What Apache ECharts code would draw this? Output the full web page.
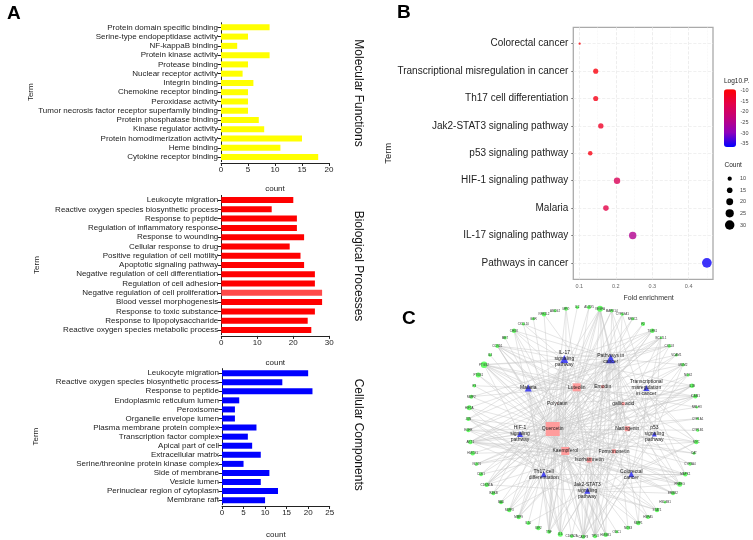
<!DOCTYPE html>
<html><head><meta charset="utf-8">
<style>html,body{margin:0;padding:0;background:#fff}#c{width:753px;height:540px}</style>
<script src="https://cdn.jsdelivr.net/npm/echarts@6/dist/echarts.min.js"></script>
</head><body><div id="c"></div>
<script>
const mfTerms=["Protein domain specific binding","Serine-type endopeptidase activity","NF-kappaB binding","Protein kinase activity","Protease binding","Nuclear receptor activity","Integrin binding","Chemokine receptor binding","Peroxidase activity","Tumor necrosis factor receptor superfamily binding","Protein phosphatase binding","Kinase regulator activity","Protein homodimerization activity","Heme binding","Cytokine receptor binding"];
const mfCounts=[9,5,3,9,5,4,6,5,5,5,7,8,15,11,18];
const bpTerms=["Leukocyte migration","Reactive oxygen species biosynthetic process","Response to peptide","Regulation of inflammatory response","Response to wounding","Cellular response to drug","Positive regulation of cell motility","Apoptotic signaling pathway","Negative regulation of cell differentiation","Regulation of cell adhesion","Negative regulation of cell proliferation","Blood vessel morphogenesis","Response to toxic substance","Response to lipopolysaccharide","Reactive oxygen species metabolic process"];
const bpCounts=[20,14,21,21,23,19,22,23,26,26,28,28,26,24,25];
const ccTerms=["Leukocyte migration","Reactive oxygen species biosynthetic process","Response to peptide","Endoplasmic reticulum lumen","Peroxisome","Organelle envelope lumen","Plasma membrane protein complex","Transcription factor complex","Apical part of cell","Extracellular matrix","Serine/threonine protein kinase complex","Side of membrane","Vesicle lumen","Perinuclear region of cytoplasm","Membrane raft"];
const ccCounts=[20,14,21,4,3,3,8,6,7,9,5,11,9,13,10];
const keggTerms=["Colorectal cancer","Transcriptional misregulation in cancer","Th17 cell differentiation","Jak2-STAT3 signaling pathway","p53 signaling pathway","HIF-1 signaling pathway","Malaria","IL-17 signaling pathway","Pathways in cancer"];
const keggFold=[0.101,0.145,0.145,0.159,0.13,0.2035,0.173,0.2465,0.45];
const keggLogP=[-10,-10.5,-11.5,-13,-11,-18,-16,-25,-36];
const keggCount=[2,13,13,14,11,18,15,22,31];
const legendLogP=[-10,-15,-20,-25,-30,-35];
const legendCount=[10,15,20,25,30];
const geneNames=["VEGFA","MAPK14","CYP19A1","NR3C1","F2","TGFB1","BCL2L1","CXCL8","VCAM1","MDM2","NOS2","IL1B","ICAM1","NR1H3","CYP1A1","CYP1B1","MYC","CAT","CYP3A4","MAPK1","PPARG","ERBB2","HSD3B1","STAT1","HSPA5","MMP1","NOS3","ODC1","HMGB1","TP53","CASP3","CDKN2A","IL6","TNF","IGF2","IL10","MMP9","MMP3","BAD","IKBKB","CDKN1A","CDK1","NQO1","HMOX1","AKT1","EGFR","JUN","HIF1A","MMP2","F3","PTGS1","PTGS2","IL4","CCND1","MET","CHUK","CXCL10","GSR","NFE2L2","ABCG2","MPO","IL2","ALOX5"];
const geneX=[600,611.7,622.3,632.7,643,652.3,661,669.3,676.3,683,688,692,695.3,696.7,697.7,697.7,696.3,694,690,685.3,679.7,673,665,657,648,638.3,628,616.7,605.7,595,583.3,571.7,560.3,549,538.3,528.3,518.7,509.3,501,493.3,486.7,481,476.7,472.7,470.3,468.3,468.3,469.3,471.3,474.3,478.3,484,490,497.3,505,514,523.3,533.3,544,555,566,577.3,589];
const geneY=[308.7,310.7,314.3,318.7,324,330.7,337.7,346,355,364.7,375,385.7,396.3,407.3,418.7,430.3,442,453.3,464,474.3,484.3,493.3,502.3,510,517,523,527.7,531.7,534.7,536.3,536.7,536.3,534.3,531.7,528,523,517,510,502.3,493.3,484.7,474.3,464,453.3,442,430.3,419,407.7,396.7,385.7,375,364.7,355,346,337.7,330.7,324,318.7,314.3,310.7,308.7,307.3,307.3];
const geneSize=[6,3.5,3,3,4,4.5,2.5,3.5,3,3.5,3,4.5,4.5,2.5,2.5,3,4.5,3,3.5,4.5,5,4,2.5,4.5,4,4.5,4,3,4.5,4,4,3.5,5,4,4.5,4,4.5,4.5,4,4,4.5,4,3.5,4.5,4.5,4,4,5,4,3.5,5,6.5,3.5,4,3.5,4.5,3,3,4.5,3,4,3.5,4];
const herbNames=["Quercetin","Luteolin","Kaempferol","Emodin","gallic acid","Polydatin","Naringenin","Formononetin","Isorhamnetin"];
const herbX=[552.7,576.7,565.3,602.7,623.3,557.3,627.3,614,589.3];
const herbY=[429,387.3,451,386.7,403.7,403.3,428.7,451.3,460];
const herbSize=[14,8,8,3,3,1,5,4,5];
const herbGenes=[
[0,1,2,3,4,5,6,7,8,9,10,11,12,13,14,15,16,17,18,19,20,21,23,24,25,26,27,28,29,30,31,32,33,34,35,36,37,38,39,40,41,42,43,44,45,46,47,48,49,50,51,52,53,54,55,56,57,58,60,61,62],
[0,1,6,9,13,20,24,28,29,30,33,36,40,44,45,48,51,53,55,60,62],
[0,2,5,8,11,12,16,19,20,29,30,32,33,37,42,43,44,46,50,51,53,60],
[0,6,16,20,29,30,40,44,51,53],
[0,17,29,30,33,36,42,44,51],
[0,12,30,33,51],
[0,11,14,18,30,32,33,42,44,51,58],
[0,2,20,30,44,51,53],
[0,12,19,29,30,44,51,55]];
const pathNames=["Pathways in\ncancer","IL-17\nsignaling\npathway","Malaria","Transcriptional\nmisregulation\nin cancer","HIF-1\nsignaling\npathway","Th17 cell\ndifferentiation","Jak2-STAT3\nsignaling\npathway","p53\nsignaling\npathway","Colorectal\ncancer"];
const pathX=[610.7,564.3,528.3,646.3,520,543.7,587.3,654.3,631.3];
const pathY=[358.7,359,388,388,434,474.3,490.7,434,474.3];
const pathSize=[9,8,7,6,6,6,6,5,6];
const pathGenes=[
[0,1,3,5,6,7,9,16,19,20,21,25,26,28,29,30,31,32,36,37,39,40,41,44,45,46,47,48,51,53,55,56],
[7,11,32,33,36,37,39,46,51,53,55,56,5,28],
[5,7,8,11,12,28,32,33,49],
[2,7,9,12,16,19,25,29,36,38,40],
[0,6,11,12,17,21,23,25,30,32,40,44,45,47,51],
[4,5,10,11,19,23,32,33,39,46,47,55],
[6,9,10,16,19,20,21,23,32,35,40,44,45,46,53],
[1,6,9,16,29,30,37,40,41,53],
[1,6,16,19,20,21,23,29,30,44,45,46,53]];

const FONT='"Liberation Sans",Arial,sans-serif';
function barParts(i,terms,vals,color,rect,xMax,xInt,termGap,nameGap,special){
  return {
    grid:{left:rect[0],top:rect[1],width:rect[2],height:rect[3],containLabel:false},
    x:{type:'value',gridIndex:i,min:0,max:xMax,interval:xInt,offset:1.3,name:'count',nameLocation:'middle',nameGap:nameGap,
       nameTextStyle:{fontSize:8,color:'#222',fontFamily:FONT},
       axisLine:{show:true,lineStyle:{color:'#222',width:1}},axisTick:{show:true,length:3,lineStyle:{color:'#222'}},
       axisLabel:{fontSize:8,color:'#222',margin:3,fontFamily:FONT,hideOverlap:false},splitLine:{show:false}},
    y:{type:'category',gridIndex:i,data:terms,inverse:true,name:'Term',nameLocation:'middle',nameGap:termGap,
       nameTextStyle:{fontSize:8,color:'#222',fontFamily:FONT},
       axisLine:{show:true,lineStyle:{color:'#222',width:1}},axisTick:{show:true,length:3.5,alignWithLabel:true,lineStyle:{color:'#222'}},
       axisLabel:{fontSize:8,color:'#222',margin:3,interval:0,fontFamily:FONT},splitLine:{show:false}},
    s:{type:'bar',xAxisIndex:i,yAxisIndex:i,barWidth:6,silent:true,animation:false,itemStyle:{color:color},
       data:vals.map((v,k)=>k===special?{value:v,itemStyle:{color:'#ff4a4a'}}:v)}
  };
}
const A=barParts(0,mfTerms,mfCounts,'#ffff00',[221,22.7,108,139],20,5,186,22,-1);
const B=barParts(1,bpTerms,bpCounts,'#ff0000',[221.3,195.4,108,139.2],30,10,181,23,10);
const C=barParts(2,ccTerms,ccCounts,'#0000ff',[222,368.6,107.7,139.4],25,5,182,25,-1);

const sizeOf=c=>1.7+0.26*c;
const majorX=[0.1,0.2,0.3,0.4], minorX=[0.15,0.25,0.35,0.45];
const kIdx=keggTerms.map((_,i)=>i);
const gridLines=[
  ...majorX.map(v=>({xAxis:v,lineStyle:{color:'#e9e9e9',width:0.8}})),
  ...minorX.map(v=>({xAxis:v,lineStyle:{color:'#f2f2f2',width:0.5}})),
  ...kIdx.map(v=>({yAxis:v,lineStyle:{color:'#ececec',width:0.8}}))
];

const nodes=[], links=[];
geneNames.forEach((n,i)=>nodes.push({name:n,value:[geneX[i],geneY[i]],symbol:'circle',symbolSize:geneSize[i],
  itemStyle:{color:'#66ff66'},label:{show:true,position:'inside',fontSize:3,color:'#333',fontFamily:FONT}}));
herbNames.forEach((n,i)=>{nodes.push({name:n,value:[herbX[i],herbY[i]],symbol:'rect',symbolSize:herbSize[i],
  itemStyle:{color:'#ff9c9c'},label:{show:true,position:'inside',fontSize:5,color:'#222',fontFamily:FONT}});
  herbGenes[i].forEach(g=>links.push({source:n,target:geneNames[g]}));});
pathNames.forEach((n,i)=>{nodes.push({name:n,value:[pathX[i],pathY[i]],symbol:'triangle',symbolSize:pathSize[i],
  itemStyle:{color:'#4a4af2'},label:{show:true,position:'inside',fontSize:5,lineHeight:6,color:'#222',fontFamily:FONT}});
  pathGenes[i].forEach(g=>links.push({source:n,target:geneNames[g]}));});

const txt=(x,y,t,s,extra)=>({type:'text',x:x,y:y,silent:true,style:Object.assign({text:t,fontSize:s,fontFamily:FONT,fill:'#222',textVerticalAlign:'middle'},extra||{})});
const sideTitle=(x,y,t)=>({type:'text',x:x,y:y,rotation:-Math.PI/2,silent:true,style:{text:t,fontSize:12,fontFamily:FONT,fill:'#111',textAlign:'center',textVerticalAlign:'middle'}});
const graphics=[
  txt(7,14,'A',19,{fontWeight:'bold',fill:'#000'}),
  txt(397,13,'B',19,{fontWeight:'bold',fill:'#000'}),
  txt(402,319,'C',19,{fontWeight:'bold',fill:'#000'}),
  sideTitle(358,93,'Molecular Functions'),sideTitle(358,266,'Biological Processes'),sideTitle(358,434.7,'Cellular Components'),
  txt(724,81,'Log10.P.',6.5),txt(724.5,165.7,'Count',6.5),
  ...legendLogP.map((v,i)=>txt(740.5,[90.7,101,111.7,122.7,133,143.7][i],String(v),5.5,{fill:'#444'})),
  ...legendCount.map((v,i)=>txt(740,[178.7,190.3,201.7,213.3,225][i],String(v),5.5,{fill:'#444'})),
  ...legendCount.map((v,i)=>({type:'circle',silent:true,shape:{cx:729.7,cy:[178.7,190.3,201.7,213.3,225][i],r:sizeOf(v)/2},style:{fill:'#000'}}))
];

const option={
  animation:false,backgroundColor:'#fff',textStyle:{fontFamily:FONT},
  grid:[A.grid,B.grid,C.grid,
    {left:573.3,top:27.3,width:139.7,height:252,show:true,borderColor:'#aaaaaa',borderWidth:1.3,backgroundColor:'#fff'},
    {left:440,top:300,width:280,height:240}],
  xAxis:[A.x,B.x,C.x,
    {type:'value',gridIndex:3,min:0.0835,max:0.4668,name:'Fold enrichment',nameLocation:'middle',nameGap:15.5,
     nameTextStyle:{fontSize:7,color:'#333',fontFamily:FONT,padding:[0,0,0,11]},
     axisLine:{show:false},axisTick:{show:false},splitLine:{show:false},
     axisLabel:{customValues:majorX,fontSize:5.5,color:'#666',margin:4,fontFamily:FONT,formatter:v=>String(v)}},
    {type:'value',gridIndex:4,min:440,max:720,show:false,splitLine:{show:false}}],
  yAxis:[A.y,B.y,C.y,
    {type:'value',gridIndex:3,min:-0.6,max:8.6,inverse:true,name:'Term',nameLocation:'middle',nameGap:174.5,nameRotate:90,
     nameTextStyle:{fontSize:9.5,color:'#222',fontFamily:FONT},
     axisLine:{show:false},splitLine:{show:false},
     axisTick:{show:true,customValues:kIdx,length:2,lineStyle:{color:'#777'}},
     axisLabel:{customValues:kIdx,fontSize:10,color:'#222',margin:5,padding:[0,0,11,0],fontFamily:FONT,formatter:v=>keggTerms[v]}},
    {type:'value',gridIndex:4,min:300,max:540,inverse:true,show:false,splitLine:{show:false}}],
  visualMap:[{type:'continuous',seriesIndex:3,dimension:2,min:-36.6,max:-9.3,left:724,top:89.3,itemWidth:12,itemHeight:57.7,
    padding:0,calculable:false,hoverLink:false,text:null,showLabel:false,
    inRange:{color:['#0000ff','#8e00bc','#c1007c','#e40048','#ff0000']}}],
  graphic:graphics,
  series:[A.s,B.s,C.s,
    {type:'scatter',xAxisIndex:3,yAxisIndex:3,z:3,silent:true,animation:false,
     data:keggFold.map((v,i)=>[v,i,keggLogP[i],keggCount[i]]),
     symbolSize:d=>sizeOf(d[3]),
     markLine:{silent:true,z:1,symbol:'none',animation:false,label:{show:false},data:gridLines}},
    {type:'graph',coordinateSystem:'cartesian2d',xAxisIndex:4,yAxisIndex:4,layout:'none',roam:false,silent:true,animation:false,
     data:nodes,links:links,edgeSymbol:['none','none'],lineStyle:{color:'#c6c6c6',width:0.5,opacity:0.9,curveness:0},
     label:{show:true}}]
};
const chart=echarts.init(document.getElementById('c'),null,{renderer:'canvas'});
chart.setOption(option);
</script></body></html>
